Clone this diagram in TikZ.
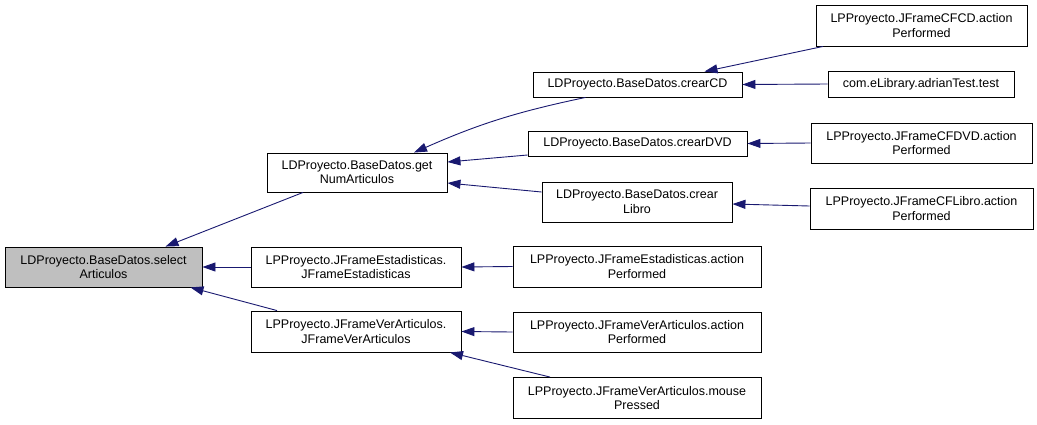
\documentclass[tikz,border=0pt]{standalone}
\usepackage{fontspec}
\setmainfont{Liberation Sans}
\usetikzlibrary{arrows.meta,calc}
\definecolor{edgecol}{HTML}{191970}
\definecolor{selfill}{HTML}{BFBFBF}
\begin{document}
\begin{tikzpicture}[x=1pt,y=-1pt,
 box/.style={draw=black, fill=white, line width=0.9pt, inner sep=0pt, align=center,
   font=\fontsize{12.5}{14.5}\selectfont},
 edge/.style={draw=edgecol, line width=0.9pt, -{Triangle[length=13pt,width=9pt]}, fill=none}]
\useasboundingbox (0,0) rectangle (1037,424);
\node[box, fill=selfill, minimum width=197pt, minimum height=40pt] (select) at (103.5,267) {LDProyecto.BaseDatos.select\\Articulos};
\node[box, minimum width=180pt, minimum height=39pt] (getNum) at (357,172.5) {LDProyecto.BaseDatos.get\\NumArticulos};
\node[box, minimum width=210pt, minimum height=40pt] (JFEst) at (356,267) {LPProyecto.JFrameEstadisticas.\\JFrameEstadisticas};
\node[box, minimum width=210pt, minimum height=41pt] (JFVer) at (356,331.5) {LPProyecto.JFrameVerArticulos.\\JFrameVerArticulos};
\node[box, minimum width=209pt, minimum height=25pt] (crearCD) at (637.5,84.5) {LDProyecto.BaseDatos.crearCD};
\node[box, minimum width=219pt, minimum height=25pt] (crearDVD) at (637.5,143.5) {LDProyecto.BaseDatos.crearDVD};
\node[box, minimum width=190pt, minimum height=40pt] (crearLibro) at (637,202) {LDProyecto.BaseDatos.crear\\Libro};
\node[box, minimum width=248pt, minimum height=41pt] (EstAction) at (637,266.5) {LPProyecto.JFrameEstadisticas.action\\Performed};
\node[box, minimum width=248pt, minimum height=40pt] (VerAction) at (637,332) {LPProyecto.JFrameVerArticulos.action\\Performed};
\node[box, minimum width=248pt, minimum height=41pt] (mouse) at (637,398) {LPProyecto.JFrameVerArticulos.mouse\\Pressed};
\node[box, minimum width=211pt, minimum height=41pt] (CFCD) at (921.5,25.5) {LPProyecto.JFrameCFCD.action\\Performed};
\node[box, minimum width=186pt, minimum height=26pt] (adrian) at (921,84) {com.eLibrary.adrianTest.test};
\node[box, minimum width=221pt, minimum height=40pt] (CFDVD) at (921.5,143) {LPProyecto.JFrameCFDVD.action\\Performed};
\node[box, minimum width=223pt, minimum height=41pt] (CFLibro) at (921.5,208.5) {LPProyecto.JFrameCFLibro.action\\Performed};

\draw[edge] ($(getNum.south)+(-54,0)$) -- ($(select.north)+(62,0)$);
\draw[edge] (JFEst.west) -- (select.east);
\draw[edge] ($(JFVer.north)+(-79,0)$) -- ($(select.south)+(87,0)$);
\draw[edge] ($(crearCD.south)+(-52,0)$) to[bend right=6] ($(getNum.north)+(57,0)$);
\draw[edge] ($(crearDVD.west)+(0,11.5)$) -- ($(getNum.east)+(0,-10.5)$);
\draw[edge] ($(crearLibro.west)+(0,-10)$) -- ($(getNum.east)+(0,10.5)$);
\draw[edge] ($(CFCD.south)+(-98.5,0)$) -- ($(crearCD.north)+(67,0)$);
\draw[edge] (adrian.west) -- (crearCD.east);
\draw[edge] (CFDVD.west) -- (crearDVD.east);
\draw[edge] ($(CFLibro.west)+(0,-2.5)$) -- ($(crearLibro.east)+(0,2)$);
\draw[edge] (EstAction.west) -- (JFEst.east);
\draw[edge] (VerAction.west) -- (JFVer.east);
\draw[edge] ($(mouse.north)+(-87,0)$) -- ($(JFVer.south)+(94,0)$);
\end{tikzpicture}
\end{document}
